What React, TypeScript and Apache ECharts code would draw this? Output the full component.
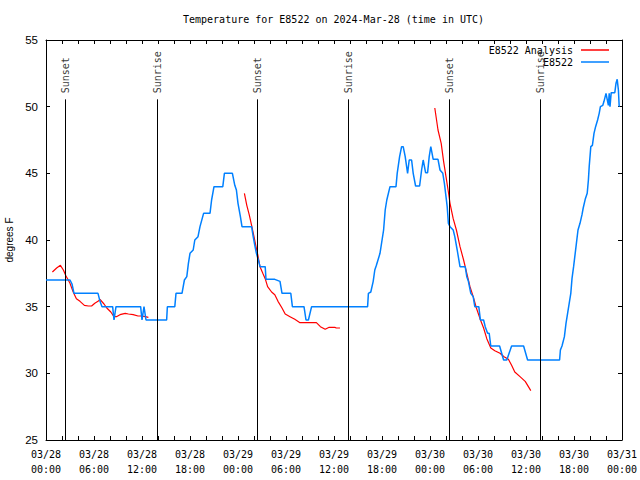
import React, { useEffect, useRef } from "react";
import * as echarts from "echarts";

// Hours since 2024-03-28 00:00 UTC, temperature in °F
const obsHours = [
  0, 3.0, 3.25, 3.5, 6.5, 6.75, 7.0, 8.33, 8.5, 8.75, 11.83, 12.0, 12.25, 12.5, 15.08, 15.17, 16.1, 16.25, 17.0, 17.3,
  17.6, 17.8, 18.0, 18.4, 18.6, 19.0, 19.25, 19.7, 20.5, 20.7, 21.0, 22.1, 22.3, 23.3, 23.6, 23.8, 24.0, 24.3, 24.5, 25.7,
  25.9, 26.1, 26.3, 26.5, 26.75, 27.4, 27.5, 28.6, 29.25, 29.5, 30.6, 30.8, 32.25, 32.5, 32.8, 33.2, 40.2, 40.3, 40.6, 40.9,
  41.1, 41.3, 41.75, 42.2, 42.4, 42.6, 43.0, 43.75, 43.9, 44.2, 44.45, 44.65, 44.9, 45.2, 45.4, 45.7, 45.9, 46.2, 46.7, 46.95,
  47.15, 47.45, 47.7, 47.9, 48.1, 48.4, 49.0, 49.25, 49.6, 49.8, 50.0, 50.15, 50.3, 50.5, 50.9, 51.1, 51.4, 51.75, 52.4, 52.6,
  52.8, 53.1, 53.4, 53.6, 54.1, 54.3, 54.7, 54.9, 55.2, 55.4, 55.6, 56.7, 57.2, 57.6, 58.2, 59.7, 60.2, 64.2, 64.3, 64.5,
  64.8, 65.0, 65.2, 65.4, 65.6, 65.75, 65.95, 66.1, 66.3, 66.5, 66.75, 67.0, 67.15, 67.4, 67.65, 67.8, 67.9, 68.1, 68.3, 68.5,
  68.7, 68.95, 69.15, 69.3, 69.6, 69.75, 70.0, 70.3, 70.4, 70.5, 70.65, 71.1, 71.25, 71.4, 71.55, 71.65,
];
const obsTemps = [
  37.0, 37.0, 36.7, 36.0, 36.0, 35.4, 35.0, 35.0, 34.0, 35.0, 35.0, 34.0, 35.0, 34.0, 34.0, 35.0, 35.0, 36.0, 36.0, 37.0,
  37.25, 38.25, 39.0, 39.25, 40.0, 40.25, 41.0, 42.0, 42.0, 43.0, 44.0, 44.0, 45.0, 45.0, 44.1, 43.75, 42.75, 41.75, 41.0, 41.0,
  40.25, 39.6, 39.0, 38.6, 38.0, 38.0, 37.05, 37.05, 36.9, 36.0, 36.0, 35.0, 35.0, 34.0, 34.0, 35.0, 35.0, 36.0, 36.1, 36.9,
  37.75, 38.1, 39.0, 40.75, 42.25, 43.0, 44.0, 44.0, 45.0, 46.25, 47.0, 47.0, 46.25, 45.0, 46.0, 46.0, 45.0, 44.05, 44.05, 45.25,
  46.0, 45.05, 45.05, 46.25, 47.0, 46.05, 46.05, 45.25, 45.0, 44.25, 43.25, 42.5, 41.25, 41.0, 40.75, 40.25, 39.25, 38.0, 38.0, 37.25,
  36.9, 36.0, 35.75, 35.0, 35.0, 34.0, 34.0, 33.5, 33.0, 33.0, 32.05, 32.05, 31.0, 31.0, 32.05, 32.05, 31.0, 31.0, 31.75, 32.05,
  32.75, 33.75, 34.5, 35.25, 36.0, 37.1, 38.0, 38.75, 39.75, 40.75, 41.25, 41.9, 42.4, 43.05, 43.5, 44.5, 45.5, 47.0, 47.1, 48.0,
  48.5, 49.0, 49.5, 50.0, 50.1, 50.4, 51.0, 50.1, 51.0, 50.0, 51.05, 51.05, 51.75, 52.05, 51.25, 50.0,
];

const analysis1Hours = [0.8, 1.33, 1.8, 2.17, 2.5, 3.0, 3.4, 3.8, 4.25, 4.8, 5.3, 5.7, 6.1, 6.5, 6.75, 7.25, 7.6, 8.1, 8.5, 8.8, 9.25, 9.9, 10.3, 10.9, 11.5, 11.95, 12.4, 12.8];
const analysis1Temps = [37.6, 37.9, 38.1, 37.75, 37.3, 36.75, 36.1, 35.6, 35.4, 35.1, 35.05, 35.05, 35.25, 35.4, 35.55, 35.2, 34.9, 34.6, 34.25, 34.25, 34.4, 34.5, 34.45, 34.4, 34.3, 34.3, 34.25, 34.2];

const analysis2Hours = [24.8, 25.1, 25.4, 25.7, 26.0, 26.25, 26.5, 26.75, 27.1, 27.4, 27.7, 28.2, 28.6, 29.0, 29.5, 29.9, 30.5, 31.1, 31.75, 33.8, 34.3, 34.9, 35.4, 36.1, 36.3, 36.75];
const analysis2Temps = [43.5, 42.6, 41.9, 41.1, 40.25, 39.5, 38.8, 38.0, 37.5, 37.1, 36.5, 36.1, 35.9, 35.4, 34.9, 34.45, 34.25, 34.05, 33.8, 33.8, 33.5, 33.3, 33.45, 33.45, 33.4, 33.4];

const analysis3Hours = [48.6, 49.0, 49.4, 49.7, 50.0, 50.3, 50.5, 50.9, 51.3, 51.75, 52.2, 52.6, 53.0, 53.4, 53.8, 54.25, 54.7, 55.1, 55.6, 56.1, 56.75, 57.25, 57.8, 58.2, 58.6, 59.25, 59.9, 60.3, 60.6];
const analysis3Temps = [49.9, 48.25, 47.25, 45.9, 44.75, 43.6, 42.75, 41.6, 40.75, 39.5, 38.5, 37.5, 36.5, 35.75, 34.9, 34.1, 33.4, 32.6, 31.9, 31.7, 31.5, 31.25, 31.05, 30.6, 30.1, 29.75, 29.4, 29.0, 28.7];

const sunNames = ["Sunset", "Sunrise", "Sunset", "Sunrise", "Sunset", "Sunrise"];
const sunHours = [2.38, 13.9, 26.4, 37.8, 50.4, 61.8];

const xTickStepHours = 6;
const yTicks = [25, 30, 35, 40, 45, 50, 55];

const MONO = "'DejaVu Sans Mono', 'Liberation Mono', monospace";
const SANS = "'Liberation Sans', Arial, sans-serif";

const zip = (a: number[], b: number[]) => a.map((v, i) => [v, b[i]]);

export default function App() {
  const ref = useRef<HTMLDivElement>(null);
  useEffect(() => {
    if (!ref.current) return;
    const chart = echarts.init(ref.current, null, { renderer: "svg" });
    const xFmt = (v: number) => {
      const d = 28 + Math.floor(v / 24);
      const hh = Math.round(v % 24);
      return `03/${d}\n${String(hh).padStart(2, "0")}:00`;
    };
    const lineTop = 50.55;
    const labelAnchor = 51.0;
    const xCommon = {
      type: "value" as const,
      min: 0,
      max: 72,
      interval: xTickStepHours,
      splitLine: { show: false },
      minorSplitLine: { show: false },
      axisLine: { show: true, onZero: false, lineStyle: { color: "#000", width: 1 } },
      axisTick: { show: true, inside: true, length: 4, lineStyle: { color: "#000" } },
      minorTick: { show: true, splitNumber: 3, length: 4, lineStyle: { color: "#000" } },
    };
    const yCommon = {
      type: "value" as const,
      min: yTicks[0],
      max: yTicks[yTicks.length - 1],
      interval: 5,
      splitLine: { show: false },
      axisLine: { show: true, onZero: false, lineStyle: { color: "#000", width: 1 } },
      axisTick: { show: true, inside: true, length: 4, lineStyle: { color: "#000" } },
    };
    const legendCommon = {
      orient: "horizontal" as const,
      right: 31,
      align: "right" as const,
      icon: "rect",
      itemWidth: 28,
      itemHeight: 1.5,
      padding: 0,
      selectedMode: false,
      textStyle: { fontFamily: MONO, fontSize: 10, color: "#000", padding: [0, 3, 0, 0], lineHeight: 12 },
    };
    chart.setOption({
      animation: false,
      backgroundColor: "#fff",
      title: {
        text: "Temperature for E8522 on 2024-Mar-28 (time in UTC)",
        left: 183,
        top: 14,
        padding: 0,
        textStyle: { fontFamily: MONO, fontSize: 10, fontWeight: "normal", color: "#000" },
      },
      legend: [
        { ...legendCommon, top: 44, data: ["E8522 Analysis"] },
        { ...legendCommon, top: 56, data: ["E8522"] },
      ],
      grid: { left: 46, right: 18, top: 40, bottom: 40, outerBoundsMode: "none" },
      xAxis: [
        {
          ...xCommon,
          position: "bottom",
          axisLabel: {
            formatter: xFmt,
            fontFamily: MONO,
            fontSize: 10,
            lineHeight: 15,
            color: "#000",
            margin: 7,
            showMinLabel: true,
            showMaxLabel: true,
          },
        },
        { ...xCommon, position: "top", axisLabel: { show: false } },
      ],
      yAxis: [
        {
          ...yCommon,
          position: "left",
          name: "degrees F",
          nameLocation: "middle",
          nameGap: 31,
          nameRotate: 90,
          nameTextStyle: { fontFamily: SANS, fontSize: 10, color: "#000" },
          axisLabel: { fontFamily: SANS, fontSize: 11.5, color: "#000", margin: 8 },
        },
        { ...yCommon, position: "right", axisLabel: { show: false } },
      ],
      series: [
        ...[
          zip(analysis1Hours, analysis1Temps),
          zip(analysis2Hours, analysis2Temps),
          zip(analysis3Hours, analysis3Temps),
        ].map((d) => ({
          name: "E8522 Analysis",
          type: "line",
          data: d,
          showSymbol: false,
          symbol: "none",
          color: "#ff0000",
          lineStyle: { color: "#ff0000", width: 1.2 },
          z: 3,
        })),
        {
          name: "E8522",
          type: "line",
          data: zip(obsHours, obsTemps),
          showSymbol: false,
          symbol: "none",
          color: "#0080ff",
          lineStyle: { color: "#0080ff", width: 1.5 },
          z: 4,
        },
        {
          name: "sun",
          type: "scatter",
          symbolSize: 0,
          silent: true,
          data: sunHours.map((h, i) => ({ name: sunNames[i], value: [h, labelAnchor] })),
          label: {
            show: true,
            formatter: "{b}",
            position: [0, 0],
            rotate: 90,
            align: "left",
            verticalAlign: "middle",
            fontFamily: MONO,
            fontSize: 10,
            color: "#000",
          },
          markLine: {
            silent: true,
            symbol: "none",
            label: { show: false },
            lineStyle: { color: "#000", width: 1, type: "solid" },
            data: sunHours.map((h) => [{ coord: [h, yTicks[0]] }, { coord: [h, lineTop] }]),
          },
          z: 2,
        },
      ],
    });
    return () => chart.dispose();
  }, []);
  return <div ref={ref} style={{ position: "fixed", left: 0, top: 0, width: 640, height: 480 }} />;
}
